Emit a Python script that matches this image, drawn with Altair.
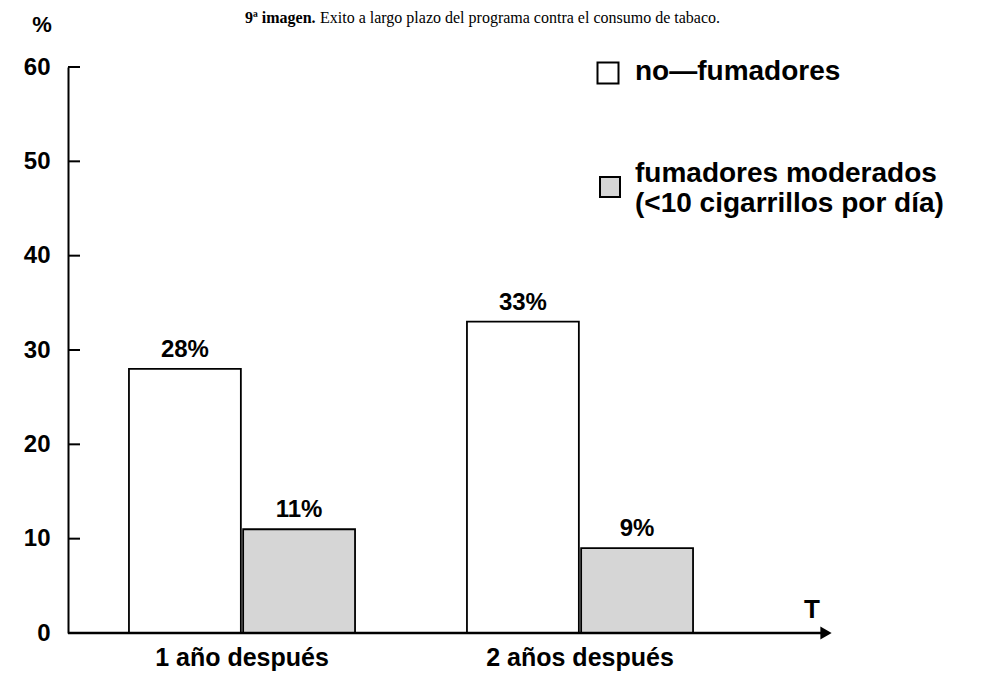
import altair as alt
import pandas as pd

periods = ["1 año después", "2 años después"]
groups = ["no-fumadores", "fumadores moderados"]
values = {
    "no-fumadores": [28, 33],
    "fumadores moderados": [11, 9],
}
legend_line1 = ["no—fumadores", "fumadores moderados"]
legend_line2 = ["", "(<10 cigarrillos por día)"]
y_ticks = [0, 10, 20, 30, 40, 50, 60]

rows = []
for g in groups:
    for p, v in zip(periods, values[g]):
        rows.append({"periodo": p, "grupo": g, "valor": v, "etiqueta": f"{v}%"})
df = pd.DataFrame(rows)
ticks_df = pd.DataFrame({"valor": y_ticks[1:]})

FONT = "Liberation Sans"
SERIF = "Liberation Serif"
HATCH = "#d6d6d6"
one = alt.Data(values=[{}])

x_enc = alt.X("periodo:N", sort=periods,
              scale=alt.Scale(range=[5, 681], paddingInner=0, paddingOuter=0),
              axis=alt.Axis(title=None, labelAngle=0, labelFontSize=25, labelFont=FONT,
                            labelFontWeight="bold", labelColor="black", labelPadding=12,
                            labelLimit=400, ticks=False, domain=False))
xoff = alt.XOffset("grupo:N", sort=groups,
                   scale=alt.Scale(paddingInner=0.02, paddingOuter=0.49))
y_scale = alt.Scale(domain=[0, 60], nice=False)
y_enc = alt.Y("valor:Q", scale=y_scale,
              axis=alt.Axis(title=None, values=y_ticks, labelFontSize=24, labelFont=FONT,
                            labelFontWeight="bold", labelColor="black", labelPadding=18,
                            ticks=False, grid=False, domainColor="black", domainWidth=2))

bars = alt.Chart(df).mark_bar(stroke="black", strokeWidth=1.8).encode(
    x=x_enc, xOffset=xoff, y=y_enc,
    fill=alt.Fill("grupo:N", sort=groups,
                  scale=alt.Scale(domain=groups, range=["white", HATCH]), legend=None),
)

labels = alt.Chart(df).mark_text(fontSize=24, font=FONT, fontWeight="bold", baseline="bottom",
                                 dy=-7, color="black").encode(
    x=alt.X("periodo:N", sort=periods), xOffset=xoff, y="valor:Q", text="etiqueta:N"
)

# inward ticks on the y axis
yticks = alt.Chart(ticks_df).mark_rule(color="black", strokeWidth=2).encode(
    y=alt.Y("valor:Q", scale=y_scale), x=alt.value(0), x2=alt.value(12))

# decorations
x_line = alt.Chart(one).mark_rule(color="black", strokeWidth=2.5).encode(
    x=alt.value(0), x2=alt.value(755), y=alt.value(566))
arrow = alt.Chart(one).mark_point(shape="triangle-right", filled=True, color="black", size=170,
                                  opacity=1).encode(x=alt.value(758), y=alt.value(566))
t_label = alt.Chart(one).mark_text(text="T", fontSize=26, font=FONT, fontWeight="bold",
                                   color="black").encode(x=alt.value(744), y=alt.value(543))
pct = alt.Chart(one).mark_text(text="%", fontSize=22, font=FONT, fontWeight="bold",
                               color="black").encode(x=alt.value(-26), y=alt.value(-42))
title_bold = alt.Chart(one).mark_text(text="9ª imagen.", fontSize=16, font=SERIF, fontWeight="bold",
                                      align="left", color="black").encode(
    x=alt.value(177), y=alt.value(-49))
title_rest = alt.Chart(one).mark_text(text="Exito a largo plazo del programa contra el consumo de tabaco.",
                                      fontSize=16, font=SERIF, align="left", color="black").encode(
    x=alt.value(252), y=alt.value(-49))

leg_sq1 = alt.Chart(one).mark_square(fill="white", stroke="black", strokeWidth=2, size=441,
                                     opacity=1).encode(x=alt.value(540), y=alt.value(6))
leg_sq2 = alt.Chart(one).mark_square(fill=HATCH, stroke="black", strokeWidth=2, size=400,
                                     opacity=1).encode(x=alt.value(542), y=alt.value(120))
leg_t1 = alt.Chart(one).mark_text(text=legend_line1[0], fontSize=28, font=FONT, fontWeight="bold",
                                  align="left", color="black").encode(x=alt.value(567), y=alt.value(5))
leg_t2 = alt.Chart(one).mark_text(text=legend_line1[1], fontSize=28, font=FONT, fontWeight="bold",
                                  align="left", color="black").encode(x=alt.value(567), y=alt.value(107))
leg_t3 = alt.Chart(one).mark_text(text=legend_line2[1], fontSize=28, font=FONT, fontWeight="bold",
                                  align="left", color="black").encode(x=alt.value(567), y=alt.value(137))

chart = alt.layer(
    bars, labels, yticks, x_line, arrow, t_label, pct, title_bold, title_rest,
    leg_sq1, leg_sq2, leg_t1, leg_t2, leg_t3
).properties(
    width=765, height=566,
    padding={"left": 60, "top": 59, "right": 150, "bottom": 40},
    autosize=alt.AutoSizeParams(type="none"),
    background="white",
).configure_view(stroke=None)

chart.save("out.html", embed_options={"renderer": "svg", "actions": False})
